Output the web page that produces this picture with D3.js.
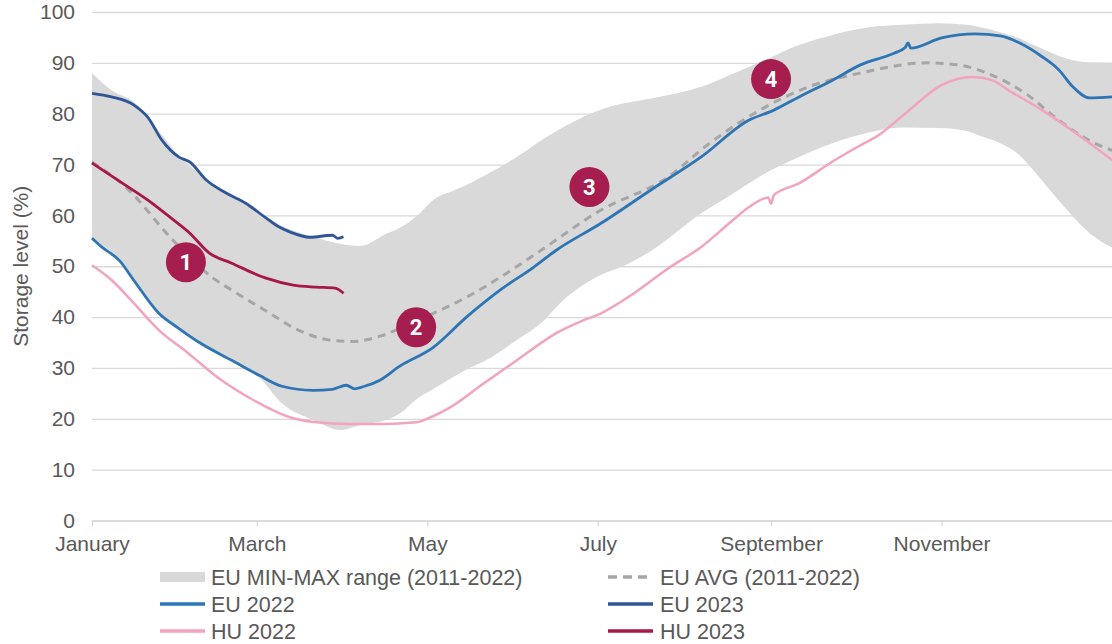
<!DOCTYPE html>
<html>
<head>
<meta charset="utf-8">
<script src="https://cdn.jsdelivr.net/npm/d3@7"></script>
<style>
  body { margin: 0; background: #fff; }
  svg { display: block; font-family: "Liberation Sans", Arial, sans-serif; }
</style>
</head>
<body>
<svg id="chart"></svg>
<script>
const width = 1112
const height = 644
const margin = {top: 12, right: 0, bottom: 123.5, left: 92}
const innerWidth = width - margin.left - margin.right
const innerHeight = height - margin.top - margin.bottom

// month ticks (day of year)
const monthDays = [0, 59, 120, 181, 243, 304]
const monthNames = ['January', 'March', 'May', 'July', 'September', 'November']
const yTicks = [0, 10, 20, 30, 40, 50, 60, 70, 80, 90, 100]

// EU min-max band 2011-2022
const bandDays = [0,7,15,24,31,39,50,60,68,79,89,96,105,110,117,122,129,134,141,152,160,170,182,190,200,218,230,241,253,265,278,290,303,313,318,325,332,337,342,349,357,365]
const bandMax = [88,84.6,82.3,76.5,71.8,68,63.8,60.5,57.9,55.8,54.4,54,56.3,57.5,60.3,63,64.8,66,68,71.5,74.5,77.8,80.8,82,83,85.3,88,90.6,93.5,95.5,97,97.5,97.8,97.5,97,96,94.8,93.5,92.3,90.8,90.1,90]
const bandMin = [55,52.8,47,40.5,37.5,34.5,31.3,28,23,19.8,17.8,18.8,19.7,21,24.2,25.8,28.1,29.7,31.5,35.5,38.5,44,48.3,50,53,60.4,64.5,68.3,71.5,74.2,76.3,77.3,77.2,76.6,75.6,74.2,71.8,68.8,65.5,61,56.5,53.7]

// EU average 2011-2022
const avgDays = [0,12,29,43,50,62,74,86,93,104,113,122,134,146,159,182,206,221,239,256,275,299,310,322,334,346,358,365]
const avgVals = [70.5,65.6,55.1,47.8,45.3,41.3,37.4,35.4,35.2,36.4,38.5,40.7,43.9,47.8,52.5,61,67.5,74.2,80.7,85.2,88,90,89.6,87.6,84,78.7,74.4,72.8]

// EU 2022
const eu22Days = [0,3,10,15,24,31,39,50,60,68,79,86,91,94,97,103,110,122,134,146,158,166,182,200,218,235,244,253,265,275,287,291,292,293,304,316,325,332,340,346,351,357,365]
const eu22Vals = [55.5,54,51,47.2,40.7,37.8,34.8,31.5,28.5,26.4,25.6,25.8,26.6,25.9,26.3,27.6,30.3,34,40,45.3,49.8,53.1,58.4,65,71.5,78.7,80.7,83.3,86.6,89.6,91.9,93,93.9,92.9,94.9,95.7,95.3,93.9,91.2,88.6,85.3,83.1,83.3]

// EU 2023
const eu23Days = [0,7,15,20,25,31,35,41,48,55,62,67,71,78,86,88,90]
const eu23Vals = [84,83.3,81.7,79.3,74.8,71.5,70.5,66.9,64.4,62.4,59.6,57.7,56.7,55.7,56.1,55.5,55.8]

// HU 2022
const hu22Days = [0,7,15,24,34,45,58,72,86,100,110,116,122,128,140,152,166,176,182,194,206,218,229,235,242,243,244,253,265,275,281,292,304,315,322,328,340,352,365]
const hu22Vals = [50.2,47.3,42.7,37.4,33.1,28.1,23.6,20.1,19.1,19,19.1,19.3,20.5,22.2,26.9,31.5,36.8,39.4,40.7,44.7,49.5,53.8,58.9,61.6,63.5,62.3,64,66.3,70.6,73.8,75.6,80.5,85.6,87.2,86.6,84.6,80.7,76.2,70.9]

// HU 2023
const hu23Days = [0,11,20,28,35,42,50,62,72,80,87,90]
const hu23Vals = [70.3,66.3,63,59.6,56.5,52.6,50.6,47.7,46.3,45.9,45.7,44.7]

// numbered notes
const noteLabels = ['1', '2', '3', '4']
const noteDays = [33.6, 116, 178, 243]
const noteVals = [50.8, 38, 65.6, 86.8]

const legendLabels = ['EU MIN-MAX range (2011-2022)', 'EU AVG (2011-2022)', 'EU 2022', 'EU 2023', 'HU 2022', 'HU 2023']

const zip = (xs, ys) => xs.map((x, i) => ({day: x, value: ys[i]}))

const svg = d3.select('#chart')
  .attr('width', width)
  .attr('height', height)

const x = d3.scaleLinear().domain([0, 365]).range([0, innerWidth])
const y = d3.scaleLinear().domain([0, 100]).range([innerHeight, 0])

const g = svg.append('g')
  .attr('transform', `translate(${margin.left},${margin.top})`)

// grid + y axis
const yAxis = d3.axisLeft(y)
  .tickValues(yTicks)
  .tickSize(-innerWidth)
  .tickPadding(17)
g.append('g').attr('class', 'y-axis').call(yAxis)
  .call(s => s.select('.domain').remove())
  .call(s => s.selectAll('line').attr('stroke', '#d9d9d9').attr('stroke-width', 1.3))
  .call(s => s.selectAll('text').attr('fill', '#595959').attr('font-size', 21))

// x axis
const xAxis = d3.axisBottom(x)
  .tickValues(monthDays)
  .tickFormat((d, i) => monthNames[i])
  .tickSize(6)
  .tickSizeOuter(0)
  .tickPadding(10)
g.append('g').attr('class', 'x-axis')
  .attr('transform', `translate(0,${innerHeight})`)
  .call(xAxis)
  .call(s => s.select('.domain').attr('stroke', '#d9d9d9').attr('stroke-width', 1.3))
  .call(s => s.selectAll('line').attr('stroke', '#d9d9d9').attr('stroke-width', 1.3))
  .call(s => s.selectAll('text').attr('fill', '#595959').attr('font-size', 21))

// y title
svg.append('text')
  .attr('transform', `translate(28,${margin.top + innerHeight / 2}) rotate(-90)`)
  .attr('text-anchor', 'middle')
  .attr('fill', '#595959')
  .attr('font-size', 21)
  .text('Storage level (%)')

// band
const bandData = bandDays.map((d, i) => ({day: d, lo: bandMin[i], hi: bandMax[i]}))
const area = d3.area()
  .x(d => x(d.day))
  .y0(d => y(d.lo))
  .y1(d => y(d.hi))
  .curve(d3.curveMonotoneX)
g.append('path')
  .attr('d', area(bandData))
  .attr('fill', '#d9d9d9')

const line = d3.line()
  .x(d => x(d.day))
  .y(d => y(d.value))
  .curve(d3.curveMonotoneX)

const series = [
  {data: zip(avgDays, avgVals), color: '#a6a6a6', w: 3, dash: '8,6'},
  {data: zip(hu22Days, hu22Vals), color: '#f2a3bf', w: 2.5},
  {data: zip(eu22Days, eu22Vals), color: '#2e75b6', w: 2.8},
  {data: zip(eu23Days, eu23Vals), color: '#2f5597', w: 2.8},
  {data: zip(hu23Days, hu23Vals), color: '#a8174a', w: 2.8}
]

g.append('g').selectAll('path')
  .data(series)
  .enter()
  .append('path')
  .attr('d', d => line(d.data))
  .attr('fill', 'none')
  .attr('stroke', d => d.color)
  .attr('stroke-width', d => d.w)
  .attr('stroke-dasharray', d => d.dash || null)
  .attr('stroke-linejoin', 'round')

// notes
const notes = g.append('g').selectAll('g')
  .data(noteLabels)
  .enter()
  .append('g')
  .attr('transform', (d, i) => `translate(${x(noteDays[i])},${y(noteVals[i])})`)
notes.append('circle')
  .attr('r', 20)
  .attr('fill', '#a51e4f')
notes.append('text')
  .text(d => d)
  .attr('text-anchor', 'middle')
  .attr('dy', '0.36em')
  .attr('fill', '#fff')
  .attr('font-weight', 'bold')
  .attr('font-size', 22)
  .attr('font-family', 'Roboto, sans-serif')

// legend
const legendCols = [160, 608]
const legendRows = [577, 604, 631]
const legendStyles = [
  {type: 'rect', color: '#d9d9d9'},
  {type: 'dash', color: '#a6a6a6'},
  {type: 'line', color: '#2e75b6'},
  {type: 'line', color: '#2f5597'},
  {type: 'line', color: '#f2a3bf'},
  {type: 'line', color: '#a8174a'}
]
const legend = svg.append('g').selectAll('g')
  .data(legendLabels)
  .enter()
  .append('g')
  .attr('transform', (d, i) => `translate(${legendCols[i % 2]},${legendRows[Math.floor(i / 2)]})`)
legend.each(function (d, i) {
  const s = d3.select(this)
  const st = legendStyles[i]
  if (st.type === 'rect') {
    s.append('rect').attr('x', 0).attr('y', -5).attr('width', 45).attr('height', 10).attr('fill', st.color)
  } else {
    s.append('line').attr('x1', 0).attr('x2', 45).attr('y1', 0).attr('y2', 0)
      .attr('stroke', st.color).attr('stroke-width', 3.5)
      .attr('stroke-dasharray', st.type === 'dash' ? '9,6' : null)
  }
})
legend.append('text')
  .attr('x', (d, i) => i % 2 === 0 ? 51 : 52)
  .attr('dy', '0.36em')
  .attr('fill', '#595959')
  .attr('font-size', 21.5)
  .text(d => d)
</script>
</body>
</html>
